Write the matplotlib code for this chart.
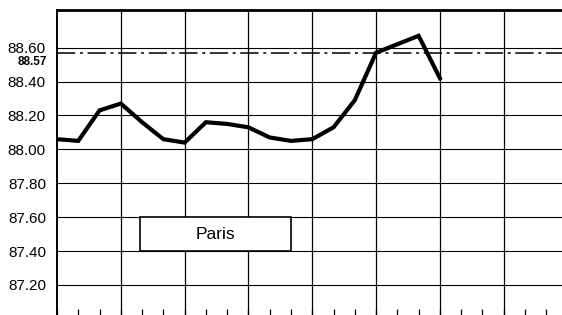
import matplotlib.pyplot as plt
from matplotlib.patches import Rectangle

plt.rcParams['font.family'] = ['Liberation Sans', 'DejaVu Sans']

# readings, one per minor tick
idx = list(range(19))
price = [88.06, 88.05, 88.23, 88.27, 88.16, 88.06, 88.04, 88.16, 88.15, 88.13,
         88.07, 88.05, 88.06, 88.13, 88.29, 88.57, 88.62, 88.67, 88.42]
ref_level = 88.57
ytick_vals = [87.20, 87.40, 87.60, 87.80, 88.00, 88.20, 88.40, 88.60]
ytick_labels = ['87.20', '87.40', '87.60', '87.80', '88.00', '88.20', '88.40', '88.60']
label = 'Paris'

fig = plt.figure(figsize=(5.62, 3.15), dpi=100)
ax = fig.add_axes([57 / 562, -3.9 / 315, 510.5 / 562, 308.9 / 315])

ax.set_xlim(0, 24)
ax.set_ylim(87.0, 88.822)

# grid
for v in ytick_vals:
    ax.axhline(v, color='black', lw=0.8, zorder=1)
for x in range(3, 24, 3):
    ax.axvline(x, color='black', lw=0.9, zorder=1)

ax.axhline(ref_level, color='black', lw=1.1, ls=(0, (12, 3, 2, 3)), zorder=2)

ax.plot(idx, price, color='black', lw=3.0, solid_joinstyle='miter', zorder=4)

# label box
ax.add_patch(Rectangle((3.9, 87.40), 7.1, 0.20, facecolor='white',
                       edgecolor='black', lw=1.2, zorder=3))
ax.text(7.45, 87.50, label, ha='center', va='center', fontsize=12.5, zorder=5)

ax.set_yticks(ytick_vals)
ax.set_yticklabels(ytick_labels, fontsize=11)
ax.tick_params(axis='y', length=0, pad=8)
ax.text(-0.45, 88.553, '88.57', ha='right', va='top',
        fontsize=8.5, fontweight='bold',
        family=['Liberation Sans Narrow', 'Liberation Sans', 'DejaVu Sans'])

ax.set_xticks(range(0, 24))
ax.set_xticklabels([])
ax.tick_params(axis='x', direction='in', length=7, width=0.9)

ax.spines['left'].set_linewidth(1.4)
ax.spines['top'].set_linewidth(2.0)
ax.spines['right'].set_visible(False)

plt.savefig('out.png', dpi=100)
